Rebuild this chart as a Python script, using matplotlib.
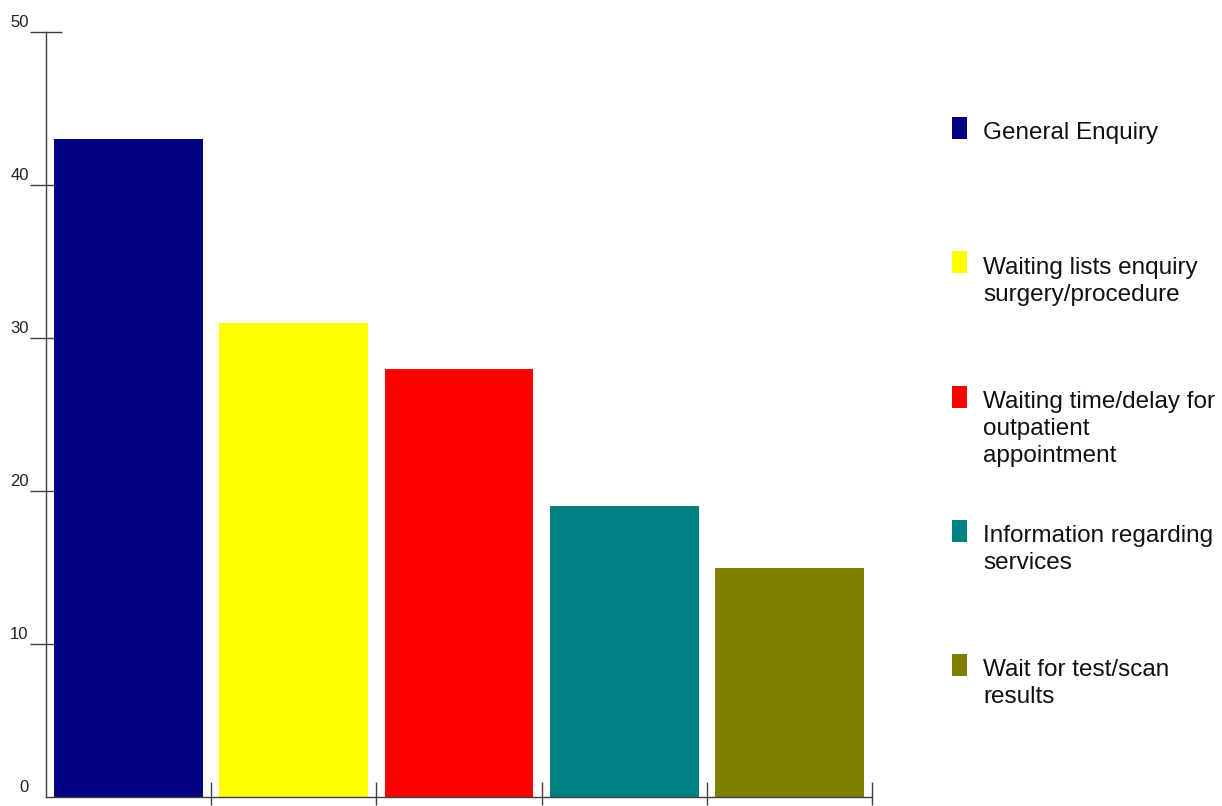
#!/usr/bin/env python3
"""Bar chart of enquiry counts by category, with a side key."""

import matplotlib

matplotlib.use("Agg")
import matplotlib.pyplot as plt
from matplotlib.patches import Rectangle
from matplotlib.transforms import blended_transform_factory, offset_copy

categories = [
    "General Enquiry",
    "Waiting lists enquiry\nsurgery/procedure",
    "Waiting time/delay for\noutpatient\nappointment",
    "Information regarding\nservices",
    "Wait for test/scan\nresults",
]
counts = [43, 31, 28, 19, 15]
colors = ["#000080", "#FFFF00", "#FF0000", "#008080", "#808000"]
y_ticks = [0, 10, 20, 30, 40, 50]

W, H = 1222, 806
AXIS_COLOR = "#404040"

plt.rcParams["font.family"] = ["Liberation Sans", "DejaVu Sans"]

fig = plt.figure(figsize=(W / 100, H / 100), dpi=100)
fig.patch.set_facecolor("white")

# axes box in pixels: x 46..872, y 32..797 (from top)
ax = fig.add_axes([46 / W, (H - 797) / H, (872 - 46) / W, (797 - 32) / H])
ax.set_facecolor("white")

positions = [i + 0.5 for i in range(len(counts))]
ax.bar(positions, counts, width=0.9, color=colors, linewidth=0, zorder=2)

ax.set_xlim(0, len(counts))
ax.set_ylim(0, 50)

for side in ("top", "right"):
    ax.spines[side].set_visible(False)
for side in ("left", "bottom"):
    ax.spines[side].set_color(AXIS_COLOR)
    ax.spines[side].set_linewidth(1.0)
    ax.spines[side].set_zorder(3)

# y ticks cross the axis, labels sit above-left of each tick
ax.set_yticks(y_ticks[1:])
ax.set_yticklabels([])
ax.tick_params(axis="y", direction="inout", length=23, width=1.0, color=AXIS_COLOR)

label_tf = offset_copy(
    blended_transform_factory(ax.transAxes, ax.transData),
    fig=fig, x=-12.5, y=3.4, units="points",
)
for value in y_ticks:
    ax.text(0, value, f"{value}", transform=label_tf, ha="right", va="baseline",
            fontsize=12, color="#222222")

# x ticks at category boundaries: short below, longer above the axis
bounds = list(range(1, len(counts) + 1))
ax.xaxis.remove_overlapping_locs = False
ax.set_xticks(bounds)
ax.set_xticks(bounds, minor=True)
ax.set_xticklabels([])
ax.tick_params(axis="x", which="major", direction="out", length=5.8, width=1.0,
               color=AXIS_COLOR)
ax.tick_params(axis="x", which="minor", direction="in", length=10.8, width=1.0,
               color=AXIS_COLOR)

# side key: colour block plus label, first baseline level with block bottom
key_top = 117
key_step = 134.25
for i, (name, color) in enumerate(zip(categories, colors)):
    top = key_top + i * key_step
    fig.patches.append(
        Rectangle((952 / W, 1 - (top + 22) / H), 15 / W, 22 / H,
                  transform=fig.transFigure, facecolor=color, edgecolor="none")
    )
    fig.text(983 / W, 1 - (top + 5.5) / H, name, ha="left", va="top",
             fontsize=17.5, color="#111111", linespacing=1.28)

fig.savefig("out.png", dpi=100, facecolor="white")
